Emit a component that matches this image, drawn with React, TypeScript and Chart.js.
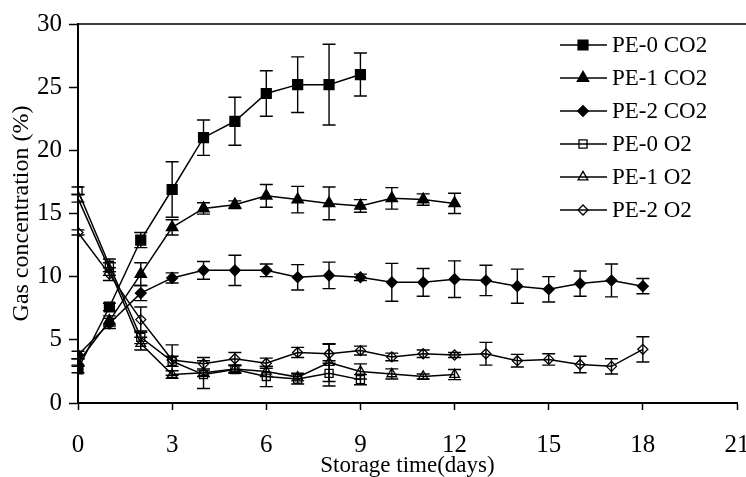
import React, { useEffect, useRef } from "react";
import { Chart, registerables } from "chart.js";

Chart.register(...registerables);

// ---- data ----
const days = [0, 1, 2, 3, 4, 5, 6, 7, 8, 9, 10, 11, 12, 13, 14, 15, 16, 17, 18];
const xTicks = [0, 3, 6, 9, 12, 15, 18, 21];
const yTicks = [0, 5, 10, 15, 20, 25, 30];

const seriesNames = ["PE-0 CO2", "PE-1 CO2", "PE-2 CO2", "PE-0 O2", "PE-1 O2", "PE-2 O2"];

const pe0CO2 = [2.7, 7.6, 12.9, 16.9, 21.0, 22.3, 24.5, 25.2, 25.2, 26.0];
const pe0CO2Err = [0.3, 0.3, 0.6, 2.2, 1.4, 1.9, 1.8, 2.2, 3.2, 1.7];

const pe1CO2 = [3.2, 6.5, 10.2, 13.9, 15.4, 15.7, 16.4, 16.1, 15.8, 15.6, 16.2, 16.1, 15.8];
const pe1CO2Err = [0.3, 0.4, 0.9, 0.6, 0.45, 0.3, 0.9, 1.05, 1.3, 0.5, 0.85, 0.45, 0.8];

const pe2CO2 = [3.8, 6.3, 8.7, 9.9, 10.5, 10.5, 10.5, 9.95, 10.1, 9.95, 9.55, 9.55, 9.8, 9.7, 9.25, 9.0, 9.45, 9.7, 9.25];
const pe2CO2Err = [0.3, 0.4, 0.6, 0.4, 0.7, 1.2, 0.5, 1.0, 1.05, 0.25, 1.5, 1.1, 1.45, 1.2, 1.35, 1.0, 1.0, 1.3, 0.6];

const pe0O2 = [16.8, 10.9, 5.2, 3.3, 2.25, 2.65, 2.1, 1.9, 2.35, 1.85];
const pe0O2Err = [0.3, 0.5, 0.5, 0.4, 1.1, 0.3, 0.8, 0.4, 1.0, 0.4];

const pe1O2 = [16.2, 10.6, 4.7, 2.25, 2.4, 2.7, 2.5, 2.05, 3.2, 2.5, 2.3, 2.1, 2.25];
const pe1O2Err = [0.3, 0.5, 0.5, 0.3, 0.3, 0.3, 0.4, 0.3, 1.5, 0.6, 0.4, 0.2, 0.4];

const pe2O2 = [13.5, 10.2, 6.6, 3.4, 3.1, 3.5, 3.15, 4.0, 3.9, 4.15, 3.65, 3.9, 3.8, 3.9, 3.35, 3.45, 3.05, 2.9, 4.25];
const pe2O2Err = [0.2, 0.5, 1.0, 1.2, 0.5, 0.5, 0.4, 0.4, 0.75, 0.35, 0.3, 0.3, 0.2, 0.9, 0.5, 0.45, 0.65, 0.6, 1.0];

const seriesValues = [pe0CO2, pe1CO2, pe2CO2, pe0O2, pe1O2, pe2O2];
const seriesErrors = [pe0CO2Err, pe1CO2Err, pe2CO2Err, pe0O2Err, pe1O2Err, pe2O2Err];
const seriesStyles = ["rect", "triangle", "rectRot", "rect", "triangle", "rectRot"];
const seriesFilled = [true, true, true, false, false, false];
const seriesRadius = [7, 6.6, 5.4, 5.7, 5.6, 5];

const FONT = "'Liberation Serif', 'Times New Roman', serif";

function drawMarker(ctx: CanvasRenderingContext2D, style: string, x: number, y: number, r: number, filled: boolean) {
  ctx.beginPath();
  if (style === "rect") {
    const s = r * Math.SQRT1_2;
    ctx.rect(x - s, y - s, 2 * s, 2 * s);
  } else if (style === "triangle") {
    let rad = 0;
    ctx.moveTo(x + Math.sin(rad) * r, y - Math.cos(rad) * r);
    rad += (2 * Math.PI) / 3;
    ctx.lineTo(x + Math.sin(rad) * r, y - Math.cos(rad) * r);
    rad += (2 * Math.PI) / 3;
    ctx.lineTo(x + Math.sin(rad) * r, y - Math.cos(rad) * r);
    ctx.closePath();
  } else {
    ctx.moveTo(x, y - r);
    ctx.lineTo(x + r, y);
    ctx.lineTo(x, y + r);
    ctx.lineTo(x - r, y);
    ctx.closePath();
  }
  if (filled) {
    ctx.fillStyle = "#000";
    ctx.fill();
  }
  ctx.strokeStyle = "#000";
  ctx.lineWidth = 1.3;
  ctx.stroke();
}

const errorBarPlugin = {
  id: "errorBars",
  afterDatasetsDraw(chart: any) {
    const ctx = chart.ctx;
    const yScale = chart.scales.y;
    ctx.save();
    ctx.strokeStyle = "#000";
    ctx.lineWidth = 1.4;
    chart.data.datasets.forEach((ds: any, i: number) => {
      const meta = chart.getDatasetMeta(i);
      const errs = seriesErrors[i];
      meta.data.forEach((el: any, j: number) => {
        const v = seriesValues[i][j];
        const e = errs[j];
        if (!e) return;
        const yt = yScale.getPixelForValue(v + e);
        const yb = yScale.getPixelForValue(v - e);
        const x = el.x;
        const cap = 6.5;
        ctx.beginPath();
        ctx.moveTo(x, yt);
        ctx.lineTo(x, yb);
        ctx.moveTo(x - cap, yt);
        ctx.lineTo(x + cap, yt);
        ctx.moveTo(x - cap, yb);
        ctx.lineTo(x + cap, yb);
        ctx.stroke();
      });
    });
    ctx.restore();
  },
};

const frameLegendPlugin = {
  id: "frameLegend",
  afterDraw(chart: any) {
    const ctx = chart.ctx;
    const area = chart.chartArea;
    ctx.save();
    // top frame line
    ctx.strokeStyle = "#000";
    ctx.lineWidth = 1.6;
    ctx.beginPath();
    ctx.moveTo(area.left, area.top);
    ctx.lineTo(chart.width, area.top);
    ctx.stroke();
    // legend
    const x0 = 560, x1 = 607, mx = 583, tx = 612, y0 = 45, dy = 33;
    seriesNames.forEach((name, i) => {
      const y = y0 + dy * i;
      ctx.strokeStyle = "#000";
      ctx.lineWidth = 1.5;
      ctx.beginPath();
      ctx.moveTo(x0, y);
      ctx.lineTo(x1, y);
      ctx.stroke();
      drawMarker(ctx, seriesStyles[i], mx, y, seriesRadius[i], seriesFilled[i]);
      ctx.fillStyle = "#000";
      ctx.font = `23px ${FONT}`;
      ctx.textBaseline = "middle";
      ctx.textAlign = "left";
      ctx.fillText(name, tx, y + 1);
    });
    ctx.restore();
  },
};

export default function App() {
  const canvasRef = useRef<HTMLCanvasElement | null>(null);

  useEffect(() => {
    document.body.style.margin = "0";
    const canvas = canvasRef.current;
    if (!canvas) return;

    const datasets = seriesNames.map((name, i) => ({
      label: name,
      data: seriesValues[i].map((v, j) => ({ x: days[j], y: v })),
      borderColor: "#000",
      borderWidth: 1.5,
      pointStyle: seriesStyles[i],
      pointRadius: seriesRadius[i],
      pointBackgroundColor: seriesFilled[i] ? "#000" : "rgba(0,0,0,0)",
      pointBorderColor: "#000",
      pointBorderWidth: 1.3,
      fill: false,
      tension: 0,
    }));

    const chart = new Chart(canvas, {
      type: "line",
      data: { datasets } as any,
      options: {
        animation: false,
        responsive: false,
        devicePixelRatio: 1,
        layout: { padding: { top: 24, right: 9, left: 0, bottom: 0 } },
        plugins: {
          legend: { display: false },
          tooltip: { enabled: false },
        },
        scales: {
          x: {
            type: "linear",
            min: 0,
            max: 21,
            afterBuildTicks: (s: any) => {
              s.ticks = xTicks.map((v) => ({ value: v }));
            },
            afterFit: (s: any) => {
              s.height = 74;
              s.paddingLeft = 0;
              s.paddingRight = 0;
            },
            ticks: {
              color: "#000",
              font: { family: FONT, size: 25, lineHeight: 1 },
              padding: 23,
              maxRotation: 0,
              autoSkip: false,
            },
            grid: { drawOnChartArea: false, drawTicks: true, tickLength: 7, tickColor: "#000", tickWidth: 1.5 },
            border: { color: "#000", width: 2 },
            title: {
              display: true,
              text: "Storage time(days)",
              color: "#000",
              font: { family: FONT, size: 23, lineHeight: 1 },
              padding: 0,
            },
          },
          y: {
            type: "linear",
            min: 0,
            max: 30,
            afterBuildTicks: (s: any) => {
              s.ticks = yTicks.map((v) => ({ value: v }));
            },
            afterFit: (s: any) => {
              s.width = 78;
              s.paddingTop = 0;
              s.paddingBottom = 0;
            },
            ticks: {
              color: "#000",
              font: { family: FONT, size: 25, lineHeight: 1 },
              padding: 7,
              autoSkip: false,
            },
            grid: { drawOnChartArea: false, drawTicks: true, tickLength: 9, tickColor: "#000", tickWidth: 1.5 },
            border: { color: "#000", width: 2 },
            title: {
              display: true,
              text: "Gas concentration (%)",
              color: "#000",
              font: { family: FONT, size: 24, lineHeight: 1 },
              padding: { top: 10, bottom: 0 },
            },
          },
        },
      } as any,
      plugins: [errorBarPlugin, frameLegendPlugin],
    });

    return () => chart.destroy();
  }, []);

  return (
    <div style={{ width: 746, height: 477, background: "#fff" }}>
      <canvas ref={canvasRef} width={746} height={477} style={{ display: "block" }} />
    </div>
  );
}
